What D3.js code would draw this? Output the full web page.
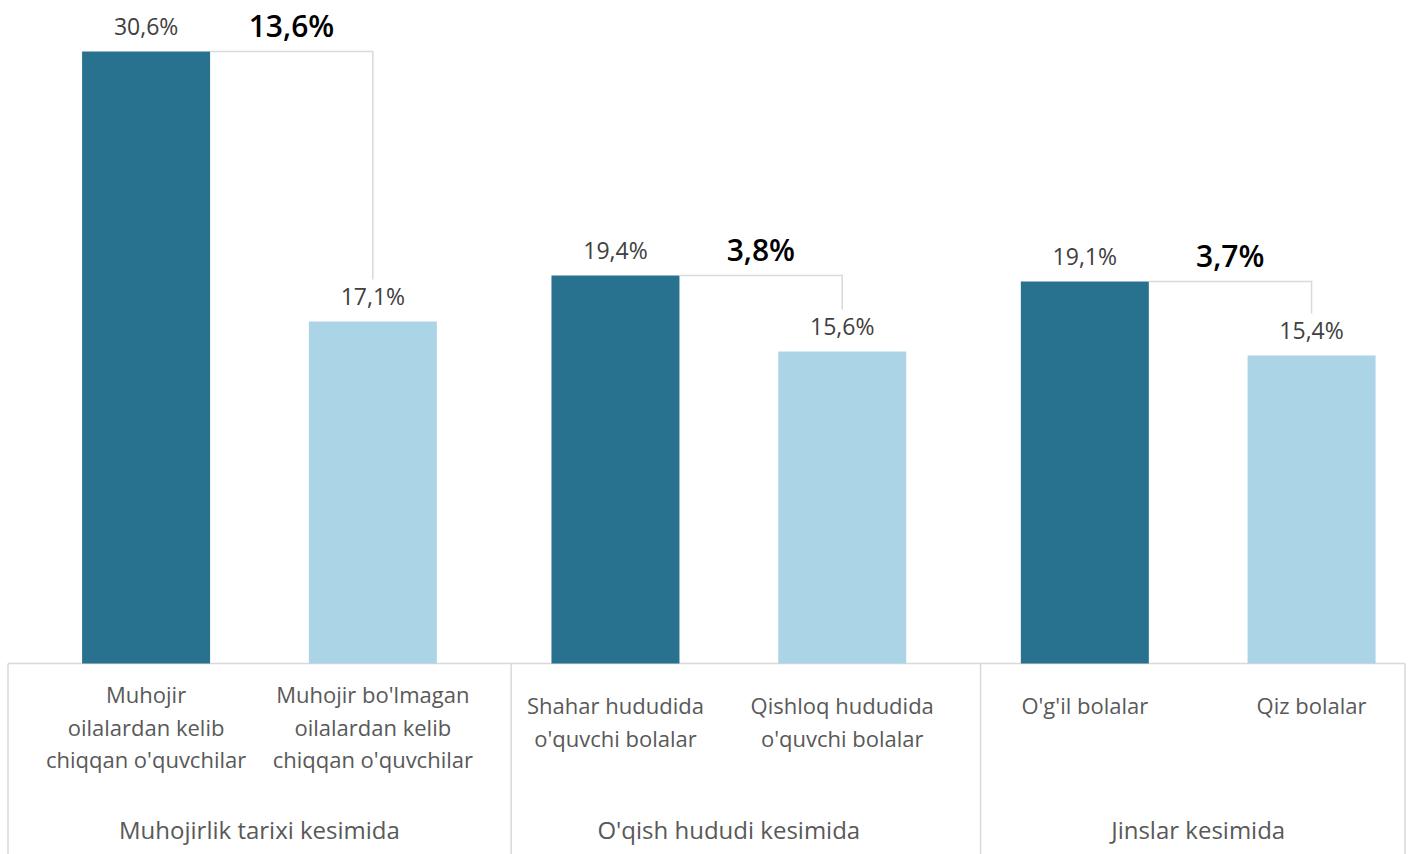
<!DOCTYPE html>
<html lang="en">
<head>
    <meta charset="UTF-8">
    <title>Grouped comparison chart</title>
    <script src="https://d3js.org/d3.v7.min.js"></script>
    <style>
        body { margin: 0; background: #fff; font-family: "Open Sans", "Noto Sans", sans-serif; }
        svg text { font-family: "Open Sans", "Noto Sans", sans-serif; }
    </style>
</head>
<body>
    <div id="chart"></div>

    <script>
        // Data
        const groups = ["Muhojirlik tarixi kesimida", "O'qish hududi kesimida", "Jinslar kesimida"];
        const categoryLines = [
            ["Muhojir", "oilalardan kelib", "chiqqan o'quvchilar"],
            ["Muhojir bo'lmagan", "oilalardan kelib", "chiqqan o'quvchilar"],
            ["Shahar hududida", "o'quvchi bolalar"],
            ["Qishloq hududida", "o'quvchi bolalar"],
            ["O'g'il bolalar"],
            ["Qiz bolalar"]
        ];
        const categoryGroup = [0, 0, 1, 1, 2, 2];
        const values = [30.6, 17.1, 19.4, 15.6, 19.1, 15.4];
        const valueLabels = ["30,6%", "17,1%", "19,4%", "15,6%", "19,1%", "15,4%"];
        const gapLabels = ["13,6%", "3,8%", "3,7%"];

        const width = 1410, height = 854;
        const baseY = 663.5;
        const groupGap = 0.07;   // extra slot space between groups

        const colors = ["#28718f", "#abd5e6"];

        const svg = d3.select("#chart").append("svg")
            .attr("width", width)
            .attr("height", height);

        // slot position of each bar (index plus gaps between groups)
        const slot = values.map((v, i) => i + categoryGroup[i] * groupGap);

        const x = d3.scaleLinear()
            .domain([-0.609, 5.552])
            .range([8, 1405]);
        const unit = x(1) - x(0);
        const barW = unit * 0.5645;

        const y = d3.scaleLinear()
            .domain([0, 32])
            .range([baseY, baseY - 640]);

        // axis lines
        const axisColor = "#d9d9d9";
        svg.append("line")
            .attr("x1", x.range()[0]).attr("x2", x.range()[1])
            .attr("y1", baseY).attr("y2", baseY)
            .attr("stroke", axisColor).attr("stroke-width", 1.5);

        const seps = [x.domain()[0]];
        groups.forEach((g, gi) => {
            const idx = categoryGroup.map((c, i) => c === gi ? i : -1).filter(i => i >= 0);
            if (gi < groups.length - 1) seps.push(slot[idx[idx.length - 1]] + 0.5 + groupGap + 0.04);
        });
        seps.push(x.domain()[1]);
        svg.selectAll(".sep")
            .data(seps)
            .enter().append("line")
            .attr("class", "sep")
            .attr("x1", d => x(d)).attr("x2", d => x(d))
            .attr("y1", baseY).attr("y2", height)
            .attr("stroke", axisColor).attr("stroke-width", 1.5);

        // bars
        svg.selectAll(".bar")
            .data(values)
            .enter().append("rect")
            .attr("class", "bar")
            .attr("x", (d, i) => x(slot[i]) - barW / 2)
            .attr("width", barW)
            .attr("y", d => y(d))
            .attr("height", d => baseY - y(d))
            .attr("fill", (d, i) => colors[i % 2]);

        // value labels
        svg.selectAll(".val")
            .data(values)
            .enter().append("text")
            .attr("class", "val")
            .attr("x", (d, i) => x(slot[i]))
            .attr("y", d => y(d) - 17)
            .attr("text-anchor", "middle")
            .attr("fill", "#404040")
            .style("font-size", "23px")
            .text((d, i) => valueLabels[i]);

        // difference brackets and labels
        groups.forEach((g, gi) => {
            const a = gi * 2, b = gi * 2 + 1;
            const xa = x(slot[a]) + barW / 2;
            const xb = x(slot[b]);
            const ya = y(values[a]);
            const yb = y(values[b]) - 42;
            svg.append("path")
                .attr("d", `M${xa},${ya}H${xb}V${yb}`)
                .attr("fill", "none")
                .attr("stroke", axisColor)
                .attr("stroke-width", 1.5);
            svg.append("text")
                .attr("x", (xa + xb) / 2)
                .attr("y", ya - 15)
                .attr("text-anchor", "middle")
                .attr("fill", "#000")
                .style("font-size", "30px")
                .style("font-weight", "600")
                .text(gapLabels[gi]);
        });

        // category labels
        const cat = svg.selectAll(".cat")
            .data(categoryLines)
            .enter().append("text")
            .attr("class", "cat")
            .attr("text-anchor", "middle")
            .attr("fill", "#595959")
            .style("font-size", "22px");
        cat.each(function (lines, i) {
            const top = lines.length > 2 ? 703 : 714;
            d3.select(this).selectAll("tspan")
                .data(lines)
                .enter().append("tspan")
                .attr("x", x(slot[i]))
                .attr("y", (l, j) => top + j * 32.5)
                .text(l => l);
        });

        // group labels
        svg.selectAll(".grp")
            .data(groups)
            .enter().append("text")
            .attr("class", "grp")
            .attr("x", (g, gi) => (x(slot[gi * 2]) + x(slot[gi * 2 + 1])) / 2)
            .attr("y", 839)
            .attr("text-anchor", "middle")
            .attr("fill", "#595959")
            .style("font-size", "24px")
            .text(g => g);
    </script>
</body>
</html>
